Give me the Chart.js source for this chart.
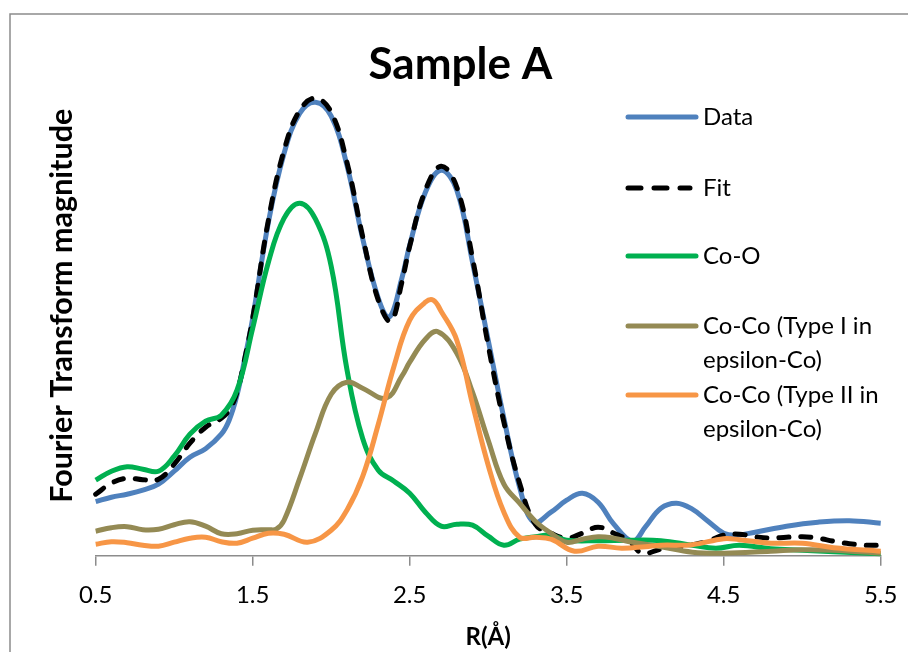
<!DOCTYPE html>
<html><head><meta charset="utf-8">
<script src="https://cdn.jsdelivr.net/npm/chart.js@4.4.1/dist/chart.umd.min.js"></script>
<style>html,body{margin:0;padding:0;background:#fff;overflow:hidden}#wrap{width:908px;height:652px}</style>
</head><body><div id="wrap"><canvas id="c" width="908" height="652"></canvas></div>
<script>
// ---- text ----
const chartTitle = 'Sample A';
const xAxisTitle = 'R(Å)';
const yAxisTitle = 'Fourier Transform magnitude';
const xTickValues = [0.5, 1.5, 2.5, 3.5, 4.5, 5.5];
const seriesNames = ['Data', 'Fit', 'Co-O', ['Co-Co (Type I in', 'epsilon-Co)'], ['Co-Co (Type II in', 'epsilon-Co)']];

// ---- series (R in Å, magnitude in arbitrary units) ----
const rData = [0.5,0.6,0.7,0.8,0.9,1.0,1.1,1.2,1.3,1.35,1.4,1.45,1.5,1.6,1.7,1.8,1.9,2.0,2.1,2.2,2.3,2.37,2.45,2.5,2.6,2.7,2.8,2.9,3.0,3.1,3.2,3.29,3.4,3.5,3.6,3.7,3.8,3.92,4.0,4.1,4.2,4.3,4.4,4.5,4.58,4.7,4.9,5.1,5.3,5.5];
const yData = [1.08,1.17,1.23,1.31,1.43,1.69,1.97,2.14,2.43,2.71,3.21,3.95,4.75,6.67,8.05,8.85,9.07,8.79,7.81,6.35,5.15,4.77,5.55,6.21,7.27,7.71,7.31,5.87,4.31,2.75,1.37,0.67,0.87,1.11,1.25,1.07,0.63,0.29,0.57,0.95,1.05,0.93,0.69,0.45,0.41,0.47,0.59,0.67,0.70,0.65];

const rFit = [0.5,0.6,0.7,0.8,0.9,1.0,1.1,1.2,1.3,1.35,1.4,1.45,1.5,1.6,1.7,1.8,1.9,2.0,2.1,2.2,2.3,2.38,2.45,2.5,2.6,2.7,2.8,2.9,3.0,3.1,3.2,3.3,3.4,3.5,3.6,3.7,3.8,3.9,3.98,4.1,4.2,4.3,4.4,4.5,4.6,4.7,4.8,4.9,5.0,5.1,5.2,5.3,5.4,5.5];
const yFit = [1.23,1.45,1.55,1.52,1.53,1.83,2.25,2.57,2.75,2.91,3.27,3.95,4.75,6.71,8.11,8.91,9.15,8.87,7.87,6.39,5.11,4.69,5.47,6.19,7.31,7.79,7.37,5.95,4.21,2.67,1.45,0.63,0.45,0.35,0.45,0.57,0.45,0.29,0.05,0.13,0.17,0.22,0.29,0.41,0.43,0.38,0.35,0.37,0.38,0.35,0.29,0.24,0.21,0.21];

const rCoO = [0.5,0.6,0.7,0.8,0.9,1.0,1.1,1.2,1.3,1.4,1.5,1.6,1.7,1.8,1.9,2.0,2.1,2.2,2.3,2.4,2.5,2.6,2.7,2.8,2.9,3.0,3.1,3.2,3.3,3.4,3.5,3.7,3.9,4.1,4.3,4.45,4.6,4.8,5.0,5.2,5.5];
const yCoO = [1.51,1.69,1.78,1.73,1.69,1.99,2.43,2.69,2.81,3.31,4.55,5.87,6.75,7.05,6.73,5.79,3.73,2.35,1.71,1.49,1.25,0.87,0.59,0.63,0.61,0.39,0.21,0.33,0.38,0.41,0.31,0.30,0.31,0.30,0.21,0.15,0.21,0.14,0.11,0.08,0.04];

const rCoCo1 = [0.5,0.6,0.7,0.8,0.9,1.0,1.1,1.2,1.3,1.4,1.5,1.6,1.65,1.7,1.8,1.9,2.0,2.1,2.2,2.35,2.45,2.5,2.6,2.68,2.8,2.9,3.0,3.1,3.2,3.3,3.4,3.5,3.6,3.7,3.8,3.9,4.1,4.3,4.5,4.8,5.0,5.2,5.5];
const yCoCo1 = [0.49,0.56,0.58,0.52,0.53,0.62,0.68,0.59,0.44,0.44,0.51,0.52,0.53,0.71,1.55,2.45,3.23,3.47,3.35,3.15,3.59,3.87,4.33,4.48,4.05,3.27,2.31,1.43,1.05,0.69,0.45,0.27,0.33,0.38,0.35,0.28,0.18,0.07,0.05,0.09,0.12,0.11,0.05];

const rCoCo2 = [0.5,0.6,0.7,0.8,0.9,1.0,1.1,1.2,1.3,1.4,1.5,1.6,1.7,1.85,2.0,2.1,2.2,2.3,2.4,2.5,2.6,2.65,2.7,2.8,2.9,3.0,3.1,3.2,3.3,3.4,3.55,3.7,3.85,4.0,4.1,4.3,4.5,4.6,4.8,5.0,5.2,5.5];
const yCoCo2 = [0.23,0.28,0.26,0.21,0.19,0.27,0.35,0.37,0.28,0.25,0.35,0.45,0.43,0.27,0.51,0.91,1.58,2.63,3.79,4.71,5.07,5.11,4.89,4.31,3.03,1.81,0.87,0.37,0.37,0.33,0.09,0.19,0.15,0.18,0.21,0.22,0.34,0.32,0.25,0.25,0.16,0.09];

const seriesColors = ['#4F81BD', '#000000', '#00B050', '#948A54', '#F79646'];

const pts = (xs, ys) => xs.map((x, i) => ({x: x, y: ys[i]}));
const FONT = 'Lato, "Open Sans", sans-serif';

function mkSet(i, xs, ys, extra) {
  return Object.assign({
    label: Array.isArray(seriesNames[i]) ? seriesNames[i].join(' ') : seriesNames[i],
    data: pts(xs, ys),
    borderColor: seriesColors[i],
    backgroundColor: seriesColors[i],
    borderWidth: 5,
    pointRadius: 0,
    pointHoverRadius: 0,
    tension: 0.4,
    fill: false,
    clip: false,
    order: 5 - i
  }, extra || {});
}

const bgPlugin = {
  id: 'bgBorder',
  beforeDraw(chart) {
    const ctx = chart.ctx;
    ctx.save();
    ctx.fillStyle = '#fff';
    ctx.fillRect(0, 0, chart.width, chart.height);
    ctx.strokeStyle = '#8c8c8c';
    ctx.lineWidth = 1.5;
    ctx.beginPath();
    ctx.moveTo(10, chart.height);
    ctx.lineTo(10, 14);
    ctx.lineTo(chart.width, 14);
    ctx.stroke();
    ctx.restore();
  }
};

const legendPlugin = {
  id: 'sideLegend',
  afterDraw(chart) {
    const ctx = chart.ctx;
    const rowY = [117, 188, 256, 326, 395];
    ctx.save();
    ctx.font = '24px ' + FONT;
    ctx.textBaseline = 'middle';
    ctx.textAlign = 'left';
    chart.data.datasets.forEach((ds, i) => {
      const y = rowY[i];
      ctx.strokeStyle = ds.borderColor;
      ctx.lineWidth = 5;
      ctx.lineCap = 'round';
      ctx.setLineDash(i === 1 ? [13, 13] : []);
      ctx.beginPath();
      ctx.moveTo(628, y);
      ctx.lineTo(i === 1 ? 690 : 696, y);
      ctx.stroke();
      ctx.setLineDash([]);
      ctx.fillStyle = '#000';
      const lines = Array.isArray(seriesNames[i]) ? seriesNames[i] : [seriesNames[i]];
      lines.forEach((t, k) => ctx.fillText(t, 703, y + k * 34));
    });
    ctx.restore();
  }
};

new Chart(document.getElementById('c'), {
  type: 'line',
  data: {
    datasets: [
      mkSet(0, rData, yData),
      mkSet(1, rFit, yFit, {borderDash: [10, 12], borderCapStyle: 'round'}),
      mkSet(2, rCoO, yCoO),
      mkSet(3, rCoCo1, yCoCo1),
      mkSet(4, rCoCo2, yCoCo2)
    ]
  },
  options: {
    responsive: false,
    animation: false,
    events: [],
    layout: {padding: {left: 40, right: 27.3, top: 0, bottom: 0}},
    plugins: {
      legend: {display: false},
      tooltip: {enabled: false},
      title: {
        display: true,
        text: chartTitle,
        color: '#000',
        font: {family: FONT, size: 44, weight: 'bold', lineHeight: 1.2},
        padding: {top: 38.6, bottom: -35.7}
      }
    },
    scales: {
      x: {
        type: 'linear',
        min: 0.5,
        max: 5.5,
        afterBuildTicks: (s) => { s.ticks = xTickValues.map(v => ({value: v})); },
        afterFit: (s) => { s.height = 96.3; },
        ticks: {
          color: '#000',
          font: {family: FONT, size: 24, lineHeight: 2.2},
          padding: 3,
          maxRotation: 0,
          autoSkip: false,
          callback: (v) => v.toFixed(1)
        },
        grid: {display: true, drawOnChartArea: false, drawTicks: true, tickLength: 10, color: '#8c8c8c', lineWidth: 1.5},
        border: {display: true, color: '#8c8c8c', width: 1.5},
        title: {display: true, text: xAxisTitle, color: '#000', font: {family: FONT, size: 24, weight: 'bold', lineHeight: 1.2}, padding: {top: 0, bottom: 0}}
      },
      y: {
        type: 'linear',
        min: 0,
        max: 10,
        afterFit: (s) => { s.width = 55.7; },
        ticks: {display: false},
        grid: {display: false},
        border: {display: false},
        title: {display: true, text: yAxisTitle, color: '#000', font: {family: FONT, size: 30.5, weight: 'bold', lineHeight: 1.2}, padding: {top: 4.2, bottom: 0}}
      }
    }
  },
  plugins: [bgPlugin, legendPlugin]
});
</script>
</body></html>
